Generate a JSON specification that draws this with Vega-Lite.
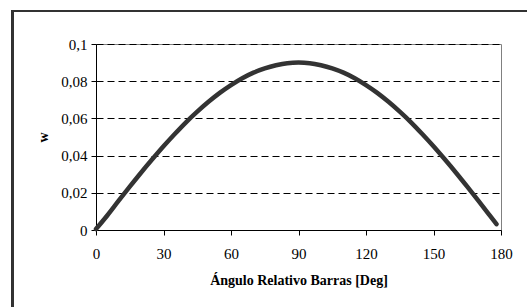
{
  "$schema": "https://vega.github.io/schema/vega-lite/v6.json",
  "width": 405,
  "height": 186,
  "autosize": {"type": "none"},
  "padding": {"left": 96, "top": 44, "right": 26, "bottom": 77},
  "background": "white",
  "config": {
    "view": {"stroke": "#808080", "strokeWidth": 1},
    "font": "Liberation Serif"
  },
  "data": {
    "values": [
      {"angle": 0, "w": 0.0005},
      {"angle": 5, "w": 0.0078},
      {"angle": 10, "w": 0.0156},
      {"angle": 15, "w": 0.0233},
      {"angle": 20, "w": 0.0308},
      {"angle": 25, "w": 0.038},
      {"angle": 30, "w": 0.045},
      {"angle": 35, "w": 0.0516},
      {"angle": 40, "w": 0.0579},
      {"angle": 45, "w": 0.0636},
      {"angle": 50, "w": 0.0689},
      {"angle": 55, "w": 0.0737},
      {"angle": 60, "w": 0.0779},
      {"angle": 65, "w": 0.0816},
      {"angle": 70, "w": 0.0846},
      {"angle": 75, "w": 0.0869},
      {"angle": 80, "w": 0.0886},
      {"angle": 85, "w": 0.0897},
      {"angle": 90, "w": 0.09},
      {"angle": 95, "w": 0.0897},
      {"angle": 100, "w": 0.0886},
      {"angle": 105, "w": 0.0869},
      {"angle": 110, "w": 0.0846},
      {"angle": 115, "w": 0.0816},
      {"angle": 120, "w": 0.0779},
      {"angle": 125, "w": 0.0737},
      {"angle": 130, "w": 0.0689},
      {"angle": 135, "w": 0.0636},
      {"angle": 140, "w": 0.0579},
      {"angle": 145, "w": 0.0516},
      {"angle": 150, "w": 0.045},
      {"angle": 155, "w": 0.038},
      {"angle": 160, "w": 0.0308},
      {"angle": 165, "w": 0.0233},
      {"angle": 170, "w": 0.0156},
      {"angle": 175, "w": 0.0078},
      {"angle": 178, "w": 0.0031}
    ]
  },
  "layer": [
    {
      "mark": {"type": "rect", "fill": null, "stroke": "#333333", "strokeWidth": 1.5, "clip": false},
      "encoding": {
        "x": {"datum": -37.1, "type": "quantitative", "scale": {"domain": [0, 180], "nice": false}},
        "x2": {"datum": 200},
        "y": {"datum": 0.1178, "type": "quantitative", "scale": {"domain": [0, 0.1], "nice": false}},
        "y2": {"datum": -0.06}
      }
    },
    {
      "mark": {"type": "line", "color": "#333333", "strokeWidth": 4.5, "strokeCap": "round", "interpolate": "monotone"},
      "encoding": {
        "x": {
          "field": "angle",
          "type": "quantitative",
          "scale": {"domain": [0, 180], "nice": false},
          "axis": {
            "values": [0, 30, 60, 90, 120, 150, 180],
            "tickCount": 20,
            "title": "Ángulo Relativo Barras [Deg]",
            "titleFont": "Liberation Serif",
            "titleFontSize": 14,
            "titleFontWeight": "bold",
            "titleColor": "black",
            "titlePadding": 12,
            "labelFont": "Liberation Serif",
            "labelFontSize": 15,
            "labelColor": "black",
            "labelPadding": 11,
            "labelOverlap": false,
            "tickSize": 5,
            "tickColor": "black",
            "domainColor": "black",
            "grid": false,
            "labelFlush": false
          }
        },
        "y": {
          "field": "w",
          "type": "quantitative",
          "scale": {"domain": [0, 0.1], "nice": false},
          "axis": {
            "values": [0, 0.02, 0.04, 0.06, 0.08, 0.1],
            "tickCount": 20,
            "labelExpr": "replace(format(datum.value, '.2~f'), '.', ',')",
            "title": "w",
            "titleFont": "Liberation Serif",
            "titleFontSize": 14,
            "titleFontWeight": "bold",
            "titleColor": "black",
            "titlePadding": 10,
            "labelFont": "Liberation Serif",
            "labelFontSize": 15,
            "labelColor": "black",
            "labelPadding": 4,
            "labelOverlap": false,
            "tickSize": 5,
            "tickColor": "black",
            "domainColor": "black",
            "grid": true,
            "gridColor": "black",
            "gridDash": [7, 4],
            "gridWidth": 1,
            "labelFlush": false
          }
        }
      }
    }
  ]
}
